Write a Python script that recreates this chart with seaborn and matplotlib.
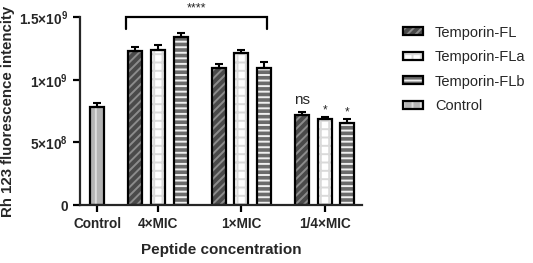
import numpy as np
import pandas as pd
import matplotlib
matplotlib.use('Agg')
import matplotlib.pyplot as plt
import seaborn as sns
from matplotlib.patches import Patch

# groups along the x axis and the series (legend order)
groups = ['Control', '4×MIC', '1×MIC', '1/4×MIC']
series = ['Temporin-FL', 'Temporin-FLa', 'Temporin-FLb', 'Control']

# values (mean, upper SD)
control_mean = 0.783e9
control_sd = 0.03e9
fl_mean = [1.228e9, 1.095e9, 0.719e9]
fl_sd = [0.032e9, 0.032e9, 0.027e9]
fla_mean = [1.236e9, 1.215e9, 0.684e9]
fla_sd = [0.040e9, 0.027e9, 0.016e9]
flb_mean = [1.340e9, 1.095e9, 0.658e9]
flb_sd = [0.035e9, 0.048e9, 0.032e9]
marks_quarter = ['ns', '*', '*']

yticks = [0, 5e8, 1e9, 1.5e9]
ytick_labels = ['0', '5×10$^8$', '1×10$^9$', '1.5×10$^9$']

face = {'Temporin-FL': '#4a4a4a', 'Temporin-FLa': '#ffffff',
        'Temporin-FLb': '#6b6b6b', 'Control': '#b4b4b4'}
hatch = {'Temporin-FL': '////', 'Temporin-FLa': '++',
         'Temporin-FLb': '---', 'Control': '||'}
hatch_col = {'Temporin-FL': '#8c8c8c', 'Temporin-FLa': '#dadada',
             'Temporin-FLb': '#f0f0f0', 'Control': '#dcdcdc'}

# build table; bars sit in slots, with an extra gap between groups
gap = 0.69
rows = [dict(group='Control', series='Control', pos=0.0,
             mean=control_mean, sd=control_sd)]
slot = 1
per_series = [fl_mean, fla_mean, flb_mean]
per_sd = [fl_sd, fla_sd, flb_sd]
for gi, g in enumerate(groups[1:]):
    for si in range(3):
        rows.append(dict(group=g, series=series[si], pos=slot + (gi + 1) * gap,
                         mean=per_series[si][gi], sd=per_sd[si][gi]))
        slot += 1
df = pd.DataFrame(rows)

sns.set_style('ticks')
plt.rcParams['font.family'] = ['Liberation Sans', 'DejaVu Sans']
plt.rcParams['mathtext.fontset'] = 'custom'
plt.rcParams['mathtext.default'] = 'regular'
plt.rcParams['hatch.linewidth'] = 1.4

fig = plt.figure(figsize=(5.33, 2.63), dpi=100)
ax = fig.add_axes([0.150, 0.2205, 0.529, 0.7135])

sns.barplot(data=df, x='pos', y='mean', hue='series', hue_order=series,
            palette=face, native_scale=True, dodge=False, width=0.62,
            errorbar=None, saturation=1, legend=False, ax=ax)
for cont, s in zip(ax.containers, series):
    for p in cont:
        p.set_hatch(hatch[s])
        p.set_edgecolor(hatch_col[s])
        p.set_linewidth(0)

# black outlines on top
sns.barplot(data=df, x='pos', y='mean', native_scale=True, width=0.62,
            fill=False, color='black', linewidth=1.6, errorbar=None, ax=ax)

ax.errorbar(df['pos'], df['mean'], yerr=[np.zeros(len(df)), df['sd']],
            fmt='none', ecolor='black', elinewidth=1.5, capsize=3, capthick=1.5,
            zorder=5)

# axes styling
ax.set_ylim(0, 1.5e9)
ax.set_xlim(-0.76, df['pos'].max() + 0.64)
centers = df.groupby('group', sort=False)['pos'].mean().reindex(groups)
ax.set_xticks(centers.values)
ax.set_xticklabels(groups, fontsize=9.8, fontweight='bold')
ax.set_yticks(yticks)
ax.set_yticklabels(ytick_labels, fontsize=9.8, fontweight='bold')
for sp in ['top', 'right']:
    ax.spines[sp].set_visible(False)
for sp in ['left', 'bottom']:
    ax.spines[sp].set_linewidth(1.6)
ax.tick_params(width=1.6, length=5, pad=3.5, color='black')
ax.set_xlabel('Peptide concentration', fontsize=11, fontweight='bold')
ax.set_ylabel('Rh 123 fluorescence intencity', fontsize=10.8, fontweight='bold')
ax.xaxis.set_label_coords(0.5, -0.2)
ax.yaxis.set_label_coords(-0.232, 0.5)

# significance bracket over 4xMIC and 1xMIC
x0 = df.loc[df.group == '4×MIC', 'pos'].min() - 0.4
x1 = df.loc[df.group == '1×MIC', 'pos'].max() + 0.13
ax.plot([x0, x0, x1, x1], [1.405e9, 1.5e9, 1.5e9, 1.405e9], color='black',
        lw=1.6, clip_on=False, solid_joinstyle='miter')
ax.text((x0 + x1) / 2, 1.52e9, '****', ha='center', va='bottom', fontsize=9)

quarter = df[df.group == '1/4×MIC']
for (_, r), m in zip(quarter.iterrows(), marks_quarter):
    top = r['mean'] + r['sd']
    if m == 'ns':
        ax.text(r['pos'], top + 0.04e9, m, ha='center', va='bottom', fontsize=11)
    else:
        ax.text(r['pos'], top + 0.005e9, m, ha='center', va='bottom', fontsize=8.5)

handles = [(Patch(facecolor=face[s], hatch=hatch[s], edgecolor=hatch_col[s], lw=0),
            Patch(fill=False, edgecolor='black', lw=1.6)) for s in series]
fig.legend(handles, series, loc='upper left', bbox_to_anchor=(0.757, 0.903),
           frameon=False, fontsize=10.5, handlelength=1.35, handleheight=0.5,
           handletextpad=0.8, labelspacing=0.72, borderpad=0, borderaxespad=0)

fig.savefig('out.png', dpi=100)
